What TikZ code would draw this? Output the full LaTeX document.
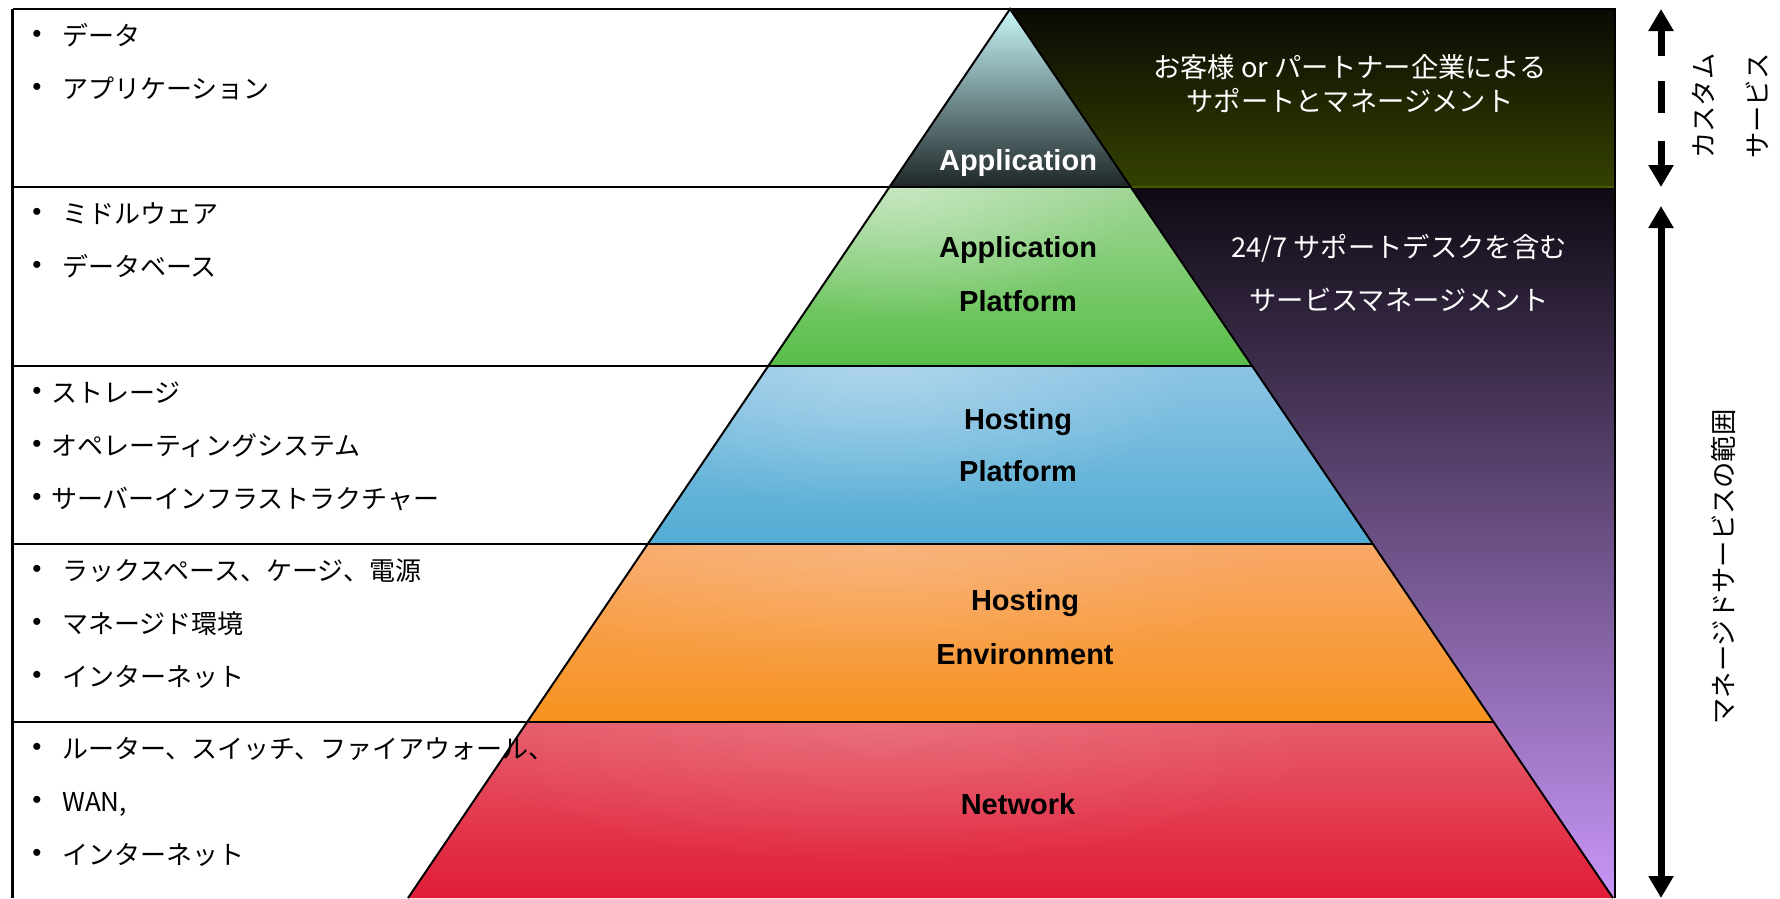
\documentclass[tikz,border=0pt]{standalone}
\usepackage{fontspec}
\setmainfont{Liberation Sans}
\newfontfamily\jpfont{Noto Sans CJK JP}
\usetikzlibrary{arrows.meta,fadings}
\tikzfading[name=glowfade, inner color=transparent!0, outer color=transparent!100]
\definecolor{appTop}{RGB}{200,246,248}
\definecolor{appMid}{RGB}{120,165,168}
\definecolor{appBot}{RGB}{30,38,40}
\definecolor{platTop}{RGB}{160,214,150}
\definecolor{platBot}{RGB}{88,190,72}
\definecolor{hpTop}{RGB}{140,196,228}
\definecolor{hpBot}{RGB}{82,172,212}
\definecolor{heTop}{RGB}{248,168,104}
\definecolor{heBot}{RGB}{247,146,30}
\definecolor{netTop}{RGB}{230,92,106}
\definecolor{netBot}{RGB}{225,28,56}
\definecolor{custTop}{RGB}{10,10,4}
\definecolor{custBot}{RGB}{52,66,0}
\definecolor{manTop}{RGB}{14,10,18}
\definecolor{manMid}{RGB}{124,94,162}
\definecolor{manBot}{RGB}{200,150,248}
\definecolor{oliveLine}{RGB}{70,90,0}
\begin{document}
\begin{tikzpicture}[x=1pt,y=-1pt,
  rowline/.style={line width=2.8pt},
  edge/.style={line width=2pt, line join=miter},
  jptxt/.style={font=\jpfont\fontsize{26}{30}\selectfont, inner sep=0pt, text height=22.9pt, text depth=3.1pt, anchor=west},
  bul/.style={font=\fontsize{26}{30}\selectfont, inner sep=0pt},
  lbl/.style={font=\fontsize{29}{29}\selectfont\bfseries, inner sep=0pt, text height=21pt, text depth=0pt},
  wtxt/.style={font=\jpfont\fontsize{27.3}{30}\selectfont, text=white, inner sep=0pt, text height=24pt, text depth=3.3pt},
  vtxt/.style={font=\jpfont\fontsize{26.3}{54}\selectfont, inner sep=0pt, rotate=90, align=center},
  bigarrow/.style={line width=7pt, -{Triangle[width=24pt,length=22pt]}},
  glow/.style={white, path fading=glowfade, fill opacity=0.4}
]
\useasboundingbox (0,0) rectangle (1780,898);
\fill[white] (0,0) rectangle (1780,898);

% key points
\coordinate (apex) at (1010,9);
\coordinate (bl) at (408,898);
\coordinate (br) at (1613,898);
\coordinate (L1) at (889.5,187);  \coordinate (R1) at (1130.7,187);
\coordinate (L2) at (768.2,366);  \coordinate (R2) at (1252.2,366);
\coordinate (L3) at (647.7,544);  \coordinate (R3) at (1372.9,544);
\coordinate (L4) at (527.2,722);  \coordinate (R4) at (1493.6,722);
\coordinate (PTR) at (1615,9);
\coordinate (PMR) at (1615,187);
\coordinate (PBR) at (1615,898);
\coordinate (BoxTL) at (12.5,9);
\coordinate (BoxBL) at (12.5,898);
\coordinate (H1) at (12.5,187);
\coordinate (H2) at (12.5,366);
\coordinate (H3) at (12.5,544);
\coordinate (H4) at (12.5,722);

% right panels
\shade[top color=custTop, bottom color=custBot] (apex) -- (PTR) -- (PMR) -- (R1) -- cycle;
\shade[top color=manTop, middle color=manMid, bottom color=manBot] (R1) -- (PMR) -- (PBR) -- (br) -- cycle;

% pyramid layers
\shade[top color=appTop, middle color=appMid, bottom color=appBot] (apex) -- (R1) -- (L1) -- cycle;
\shade[top color=platTop, bottom color=platBot] (L1) -- (R1) -- (R2) -- (L2) -- cycle;
\begin{scope}
  \clip (L1) -- (R1) -- (R2) -- (L2) -- cycle;
  \fill[glow] (900,190) ellipse (240 and 130);
\end{scope}
\shade[top color=hpTop, bottom color=hpBot] (L2) -- (R2) -- (R3) -- (L3) -- cycle;
\begin{scope}
  \clip (L2) -- (R2) -- (R3) -- (L3) -- cycle;
  \fill[glow, fill opacity=0.3] (880,370) ellipse (320 and 140);
\end{scope}
\shade[top color=heTop, bottom color=heBot] (L3) -- (R3) -- (R4) -- (L4) -- cycle;
\begin{scope}
  \clip (L3) -- (R3) -- (R4) -- (L4) -- cycle;
  \fill[glow, fill opacity=0.15] (880,548) ellipse (400 and 140);
\end{scope}
\shade[top color=netTop, bottom color=netBot] (L4) -- (R4) -- (br) -- (bl) -- cycle;
\begin{scope}
  \clip (L4) -- (R4) -- (br) -- (bl) -- cycle;
  \fill[glow, fill opacity=0.12] (880,726) ellipse (450 and 140);
\end{scope}

% lines
\draw[rowline] (BoxTL) -- (apex);
\draw[rowline] (BoxTL) -- (BoxBL);
\draw[rowline] (H1) -- (R1);
\draw[rowline] (H2) -- (R2);
\draw[rowline] (H3) -- (R3);
\draw[rowline] (H4) -- (R4);
\draw[oliveLine, line width=1.5pt] (R1) -- (PMR);
\draw[edge] (bl) -- (apex) -- (br);
\draw[line width=2pt] (apex) -- (PTR) -- (PBR);

% left texts
\node[bul] (b1a) at (37,36) {•};   \node[jptxt] (t1a) at (62,36) {データ};
\node[bul] (b1b) at (37,89) {•};   \node[jptxt] (t1b) at (62,89) {アプリケーション};
\node[bul] (b2a) at (37,214) {•};  \node[jptxt] (t2a) at (62,214) {ミドルウェア};
\node[bul] (b2b) at (37,267) {•};  \node[jptxt] (t2b) at (62,267) {データベース};
\node[bul] (b3a) at (37,393) {•};  \node[jptxt] (t3a) at (51,393) {ストレージ};
\node[bul] (b3b) at (37,446) {•};  \node[jptxt] (t3b) at (51,446) {オペレーティングシステム};
\node[bul] (b3c) at (37,499) {•};  \node[jptxt] (t3c) at (51,499) {サーバーインフラストラクチャー};
\node[bul] (b4a) at (37,571) {•};  \node[jptxt] (t4a) at (62,571) {ラックスペース、ケージ、電源};
\node[bul] (b4b) at (37,624) {•};  \node[jptxt] (t4b) at (62,624) {マネージド環境};
\node[bul] (b4c) at (37,677) {•};  \node[jptxt] (t4c) at (62,677) {インターネット};
\node[bul] (b5a) at (37,749) {•};  \node[jptxt] (t5a) at (62,749) {ルーター、スイッチ、ファイアウォール、};
\node[bul] (b5b) at (37,802) {•};  \node[jptxt] (t5b) at (62,802) {WAN,};
\node[bul] (b5c) at (37,855) {•};  \node[jptxt] (t5c) at (62,855) {インターネット};

% pyramid labels
\node[lbl, text=white] (lApp) at (1018,160) {Application};
\node[lbl] (lAP1) at (1018,247) {Application};
\node[lbl] (lAP2) at (1018,301) {Platform};
\node[lbl] (lHP1) at (1018,419) {Hosting};
\node[lbl] (lHP2) at (1018,471) {Platform};
\node[lbl] (lHE1) at (1025,600) {Hosting};
\node[lbl] (lHE2) at (1025,654) {Environment};
\node[lbl] (lNet) at (1018,804) {Network};

% right panel texts
\node[wtxt] (cust1) at (1350,67) {お客様 or パートナー企業による};
\node[wtxt] (cust2) at (1350,101) {サポートとマネージメント};
\node[wtxt] (man1) at (1399,247) {24/7 サポートデスクを含む};
\node[wtxt] (man2) at (1399,300) {サービスマネージメント};

% arrows
\coordinate (ua0) at (1661,9);
\coordinate (ua1) at (1661,56);
\coordinate (ud0) at (1661,81);
\coordinate (ud1) at (1661,113);
\coordinate (ub1) at (1661,141);
\coordinate (ub0) at (1661,187);
\draw[bigarrow] (ua1) -- (ua0);
\draw[line width=7pt] (ud0) -- (ud1);
\draw[bigarrow] (ub1) -- (ub0);
\coordinate (la0) at (1661,206);
\coordinate (la1) at (1661,898);
\draw[line width=7pt, {Triangle[width=24pt,length=22pt]}-{Triangle[width=24pt,length=22pt]}] (la0) -- (la1);

% vertical texts
\node[vtxt] (custom) at (1730,106) {カスタム\\サービス};
\node[vtxt] (managed) at (1723,567) {マネージドサービスの範囲};
\end{tikzpicture}
\end{document}
